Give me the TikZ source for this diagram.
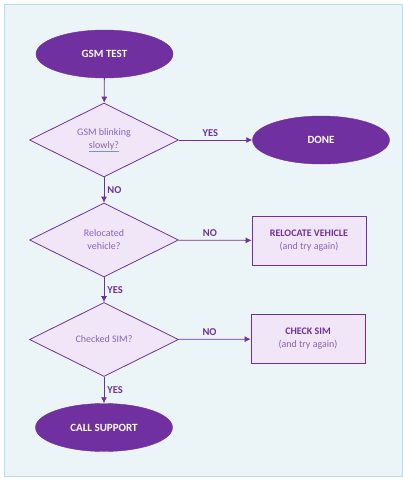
\documentclass[tikz,border=0pt]{standalone}
\usepackage{fontspec}
\setmainfont{Carlito}
\usepackage{tikz}
\usetikzlibrary{shapes.geometric}
\usetikzlibrary{arrows.meta}
\definecolor{darkpurple}{HTML}{7030A0}
\definecolor{lightpurple}{HTML}{F1E6F8}
\definecolor{textpurple}{HTML}{8A64B4}
\definecolor{bgblue}{HTML}{EBF5F8}
\definecolor{frameblue}{HTML}{B9DDE6}
\definecolor{linkblue}{HTML}{7A8FD6}
\tikzstyle{terminal}=[ellipse,fill=darkpurple,draw=darkpurple,text=white,font=\bfseries\fontsize{11}{13}\selectfont,minimum width=137pt,minimum height=48pt,inner sep=0pt]
\tikzstyle{decision}=[diamond,aspect=2,fill=lightpurple,draw=darkpurple,thick,text=textpurple,font=\fontsize{10}{13}\selectfont,align=center,minimum width=149pt,minimum height=74pt,inner sep=0pt]
\tikzstyle{action}=[rectangle,fill=lightpurple,draw=darkpurple,thick,text=textpurple,font=\fontsize{10}{13}\selectfont,align=center,minimum width=114pt,minimum height=49pt,inner sep=0pt]
\tikzstyle{flow}=[draw=darkpurple,thick,-{Latex[length=6pt,width=6pt]}]
\tikzstyle{answer}=[text=darkpurple,font=\bfseries\fontsize{10.5}{12}\selectfont,inner sep=3pt]
\newcommand{\hd}[1]{{\bfseries\color{darkpurple}#1}}

\begin{document}
\begin{tikzpicture}[x=1pt,y=-1pt]
  \useasboundingbox (0,0) rectangle (403,480);
  \draw[fill=bgblue,draw=frameblue,line width=1pt] (4.5,4.5) rectangle (402,476);
  \node[terminal] (test) at (104.5,54) {GSM TEST};
  \node[decision] (blink) at (104,140) {GSM blinking\\{\color{linkblue}\underline{\color{textpurple}slowly?}}};
  \node[terminal] (done) at (321,140) {DONE};
  \node[decision] (reloc) at (104,240) {Relocated\\vehicle?};
  \node[action] (relocbox) at (309,240.5) {\hd{RELOCATE VEHICLE}\\(and try again)};
  \node[decision] (sim) at (104,339.5) {Checked SIM?};
  \node[action] (simbox) at (308,339) {\hd{CHECK SIM}\\(and try again)};
  \node[terminal] (support) at (104,427.5) {CALL SUPPORT};
  \draw[flow] (test) -- (blink);
  \draw[flow] (blink) -- node[answer,above,pos=0.43] {YES} (done);
  \draw[flow] (blink) -- node[answer,right] {NO} (reloc);
  \draw[flow] (reloc) -- node[answer,above,pos=0.43] {NO} (relocbox);
  \draw[flow] (reloc) -- node[answer,right] {YES} (sim);
  \draw[flow] (sim) -- node[answer,above,pos=0.43] {NO} (simbox);
  \draw[flow] (sim) -- node[answer,right] {YES} (support);
\end{tikzpicture}
\end{document}
